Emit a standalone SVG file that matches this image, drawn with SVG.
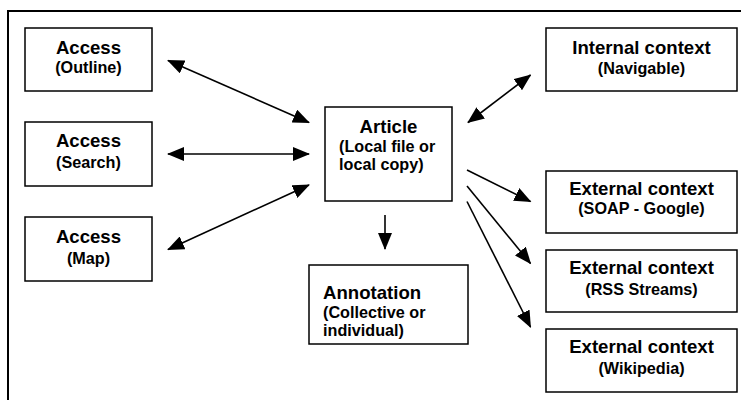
<svg xmlns="http://www.w3.org/2000/svg" width="741" height="400" viewBox="0 0 741 400">
<style>
.box{fill:#fff;stroke:#000;stroke-width:1.5}
.t{font-family:"Liberation Sans",Arial,sans-serif;font-weight:bold;font-size:18.6px;fill:#000}
.s{font-family:"Liberation Sans",Arial,sans-serif;font-weight:bold;font-size:16.2px;fill:#000}
.c{text-anchor:middle}
.ln{stroke:#000;stroke-width:1.6;fill:none}
</style>
<defs>
<marker id="ah" markerUnits="userSpaceOnUse" markerWidth="17" markerHeight="14" refX="16" refY="7" orient="auto-start-reverse">
<path d="M0,0 L17,7 L0,14 z" fill="#000"/>
</marker>
</defs>
<rect width="741" height="400" fill="#fff"/>
<path d="M8,401 V11 H742" fill="none" stroke="#000" stroke-width="2"/>

<g id="access-outline">
<rect class="box" x="25" y="28" width="127" height="63"/>
<text class="t c" x="88.5" y="53.5">Access</text>
<text class="s c" x="88.5" y="73">(Outline)</text>
</g>
<g id="access-search">
<rect class="box" x="25" y="122" width="127" height="64"/>
<text class="t c" x="88.5" y="147">Access</text>
<text class="s c" x="88.5" y="168">(Search)</text>
</g>
<g id="access-map">
<rect class="box" x="25" y="217" width="127" height="64"/>
<text class="t c" x="88.5" y="242.5">Access</text>
<text class="s c" x="88.5" y="264">(Map)</text>
</g>
<g id="article">
<rect class="box" x="325" y="107" width="127" height="94"/>
<text class="t c" x="388.5" y="133">Article</text>
<text class="s" x="339" y="151.5">(Local file or</text>
<text class="s" x="339" y="170">local copy)</text>
</g>
<g id="annotation">
<rect class="box" x="309" y="265" width="159" height="79"/>
<text class="t" x="323" y="299">Annotation</text>
<text class="s" x="323" y="318">(Collective or</text>
<text class="s" x="323" y="336">individual)</text>
</g>
<g id="internal-context">
<rect class="box" x="546" y="28" width="191" height="63"/>
<text class="t c" x="641.5" y="53.5">Internal context</text>
<text class="s c" x="641.5" y="74">(Navigable)</text>
</g>
<g id="external-soap">
<rect class="box" x="546" y="171" width="191" height="62"/>
<text class="t c" x="641.5" y="194.5">External context</text>
<text class="s c" x="641.5" y="213.5">(SOAP - Google)</text>
</g>
<g id="external-rss">
<rect class="box" x="546" y="250" width="191" height="62"/>
<text class="t c" x="641.5" y="274">External context</text>
<text class="s c" x="641.5" y="294.5">(RSS Streams)</text>
</g>
<g id="external-wikipedia">
<rect class="box" x="546" y="329" width="191" height="63"/>
<text class="t c" x="641.5" y="353">External context</text>
<text class="s c" x="641.5" y="373.5">(Wikipedia)</text>
</g>

<g id="connectors">
<line class="ln" x1="168" y1="60.5" x2="309" y2="122.5" marker-start="url(#ah)" marker-end="url(#ah)"/>
<line class="ln" x1="168" y1="154" x2="309" y2="154" marker-start="url(#ah)" marker-end="url(#ah)"/>
<line class="ln" x1="168" y1="249.5" x2="309" y2="185" marker-start="url(#ah)" marker-end="url(#ah)"/>
<line class="ln" x1="468" y1="122.5" x2="530.5" y2="75" marker-start="url(#ah)" marker-end="url(#ah)"/>
<line class="ln" x1="467" y1="170" x2="530.5" y2="201.5" marker-end="url(#ah)"/>
<line class="ln" x1="467" y1="186" x2="530.5" y2="263.5" marker-end="url(#ah)"/>
<line class="ln" x1="467" y1="201.5" x2="530.5" y2="327" marker-end="url(#ah)"/>
<line class="ln" x1="385" y1="215" x2="385" y2="249" marker-end="url(#ah)"/>
</g>
</svg>
